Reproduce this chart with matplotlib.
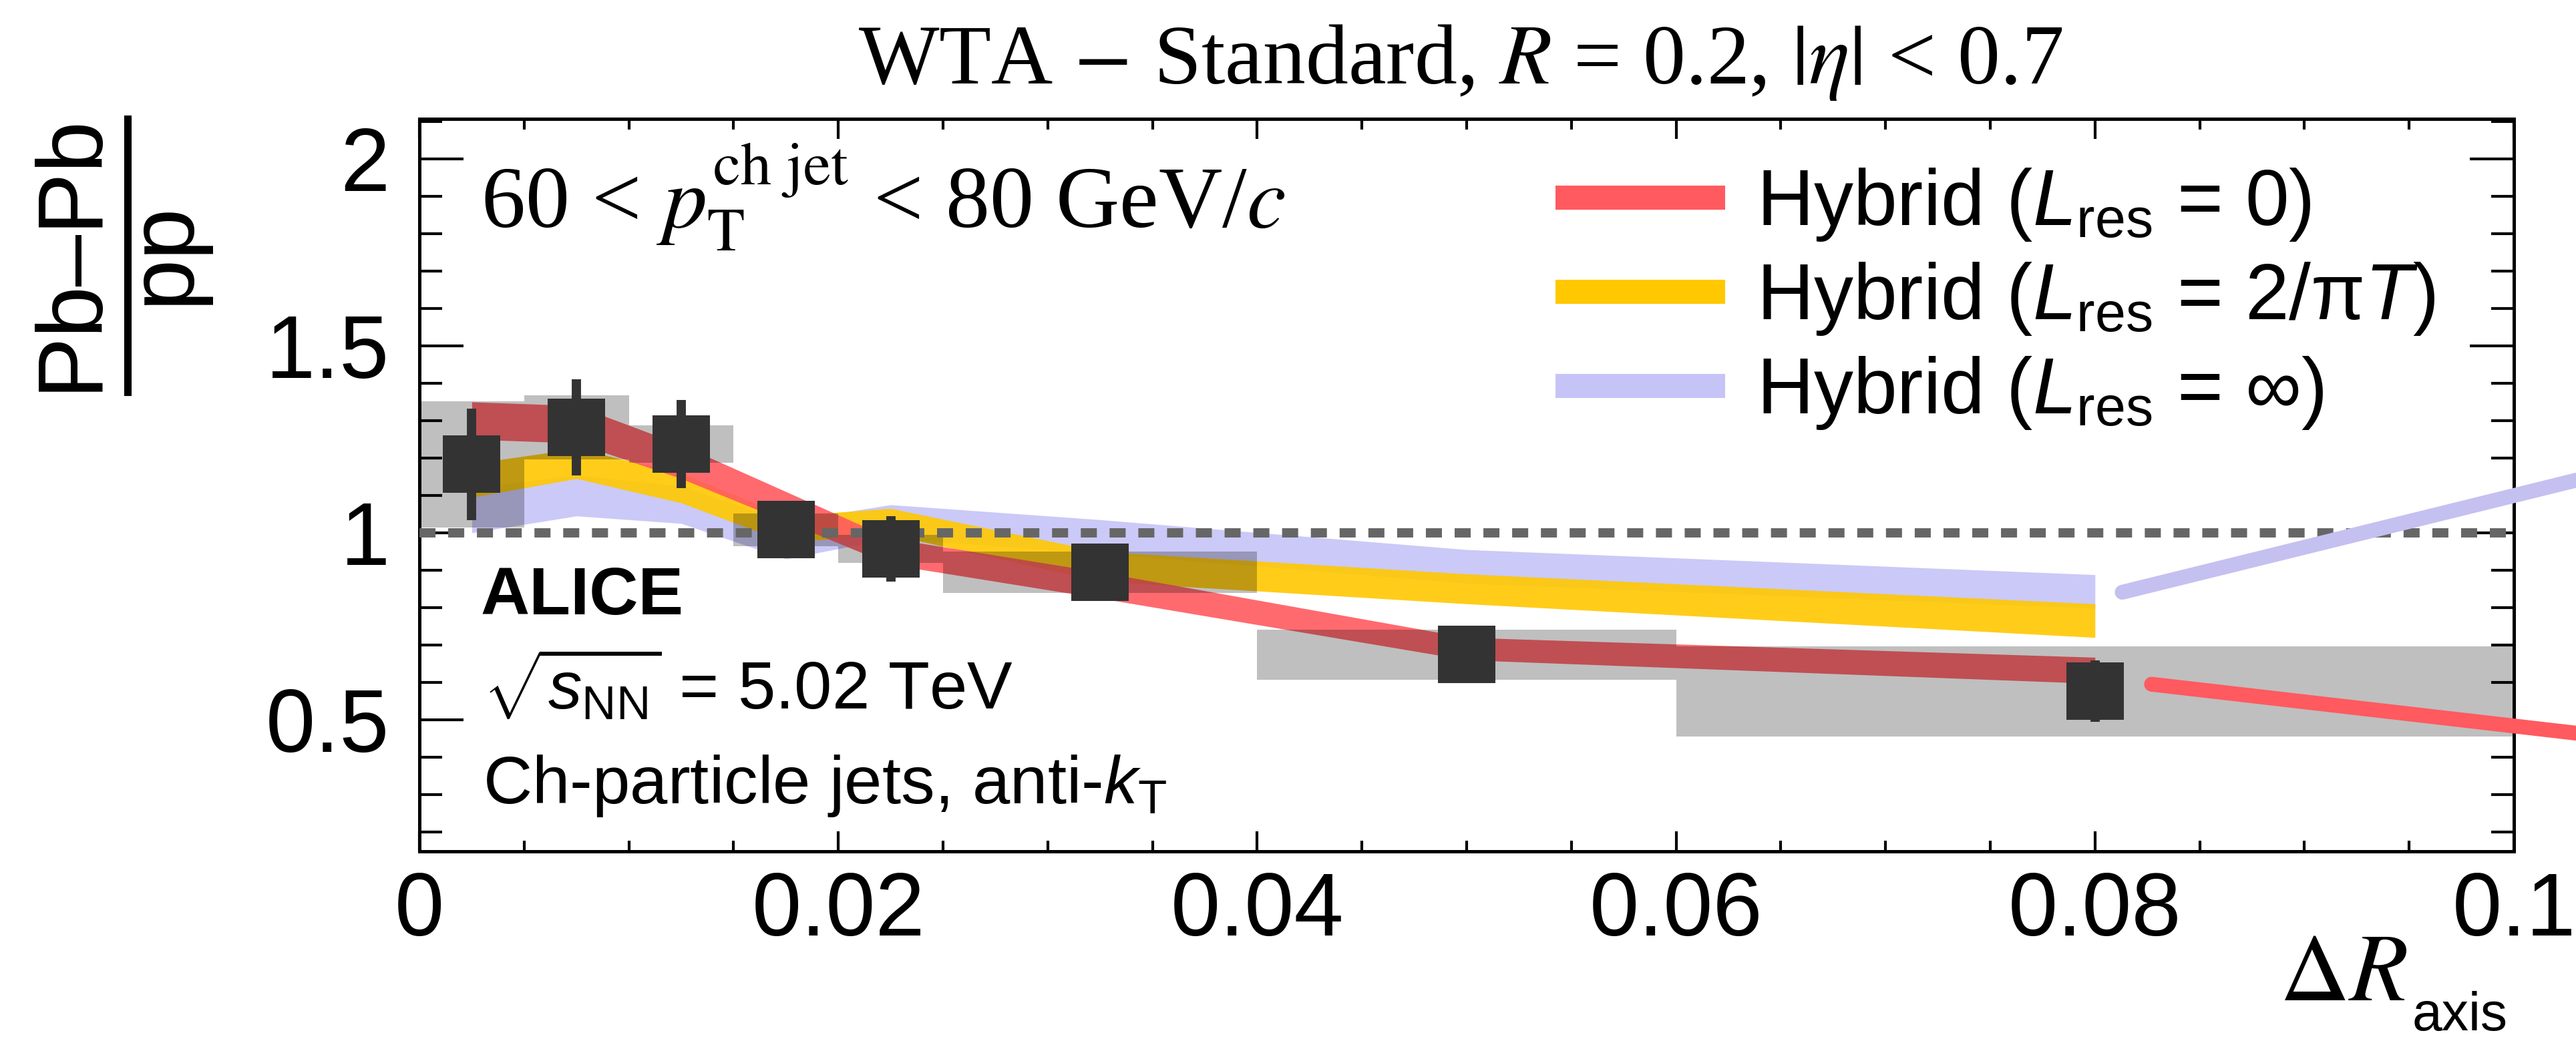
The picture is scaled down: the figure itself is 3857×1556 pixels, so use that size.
import matplotlib
matplotlib.use('Agg')
import matplotlib.pyplot as plt
from matplotlib.lines import Line2D
from matplotlib.ticker import MultipleLocator, FuncFormatter
import numpy as np

# Measured Pb-Pb / pp ratio per Delta R_axis bin
bin_lo = [0.0, 0.005, 0.01, 0.015, 0.02, 0.025, 0.04, 0.06]
bin_hi = [0.005, 0.01, 0.015, 0.02, 0.025, 0.04, 0.06, 0.1]
bin_mid = [0.0025, 0.0075, 0.0125, 0.0175, 0.0225, 0.0325, 0.05, 0.08]
ratio = [1.183, 1.282, 1.237, 1.008, 0.957, 0.894, 0.674, 0.576]
stat_err = [0.149, 0.128, 0.118, 0.03, 0.088, 0.03, 0.02, 0.082]
syst_err = [0.169, 0.086, 0.05, 0.044, 0.037, 0.055, 0.067, 0.121]

# Hybrid model bands: centre and half width at each bin centre
hyb0_mid = [1.30, 1.29, 1.19, 1.07, 0.95, 0.86, 0.69, 0.632]
hyb0_hw = [0.05, 0.05, 0.045, 0.04, 0.035, 0.035, 0.03, 0.035]
hyb2pt_mid = [1.14, 1.185, 1.12, 1.01, 1.03, 0.91, 0.85, 0.765]
hyb2pt_hw = [0.045, 0.04, 0.04, 0.035, 0.035, 0.04, 0.04, 0.045]
hybinf_mid = [1.06, 1.10, 1.075, 0.98, 1.03, 0.99, 0.91, 0.843]
hybinf_hw = [0.06, 0.055, 0.05, 0.05, 0.045, 0.045, 0.045, 0.045]

model_labels = [r'Hybrid ($L_{\mathrm{res}}$ = 0)',
                r'Hybrid ($L_{\mathrm{res}}$ = 2/$\mathrm{\pi}T$)',
                r'Hybrid ($L_{\mathrm{res}}$ = $\infty$)']

# stray pen strokes running off the right edge
stroke_lav_x = [0.0813, 0.103]
stroke_lav_y = [0.841, 1.141]
stroke_red_x = [0.0827, 0.103]
stroke_red_y = [0.595, 0.464]

RED = '#ff5a5f'
YELLOW = '#ffc800'
LAVENDER = '#c6c4f7'
MARKER = '#333333'

plt.rcParams['font.family'] = ['Liberation Sans', 'DejaVu Sans']
plt.rcParams['mathtext.fontset'] = 'custom'
plt.rcParams['mathtext.rm'] = 'Liberation Sans'
plt.rcParams['mathtext.it'] = 'Liberation Sans:italic'
plt.rcParams['mathtext.bf'] = 'Liberation Sans:bold'
plt.rcParams['mathtext.sf'] = 'Liberation Sans'

W, H = 3857, 1556
fig = plt.figure(figsize=(W / 100, H / 100), dpi=100)
ax = fig.add_axes([628 / W, 1 - 1275 / H, (3764 - 628) / W, (1275 - 178) / H])

# model bands (lavender at the back, red on top)
for mid, hw, col, z in [(hybinf_mid, hybinf_hw, LAVENDER, 1),
                        (hyb2pt_mid, hyb2pt_hw, YELLOW, 1.1),
                        (hyb0_mid, hyb0_hw, RED, 1.2)]:
    mid = np.array(mid)
    hw = np.array(hw)
    ax.fill_between(bin_mid, mid - hw, mid + hw, color=col, alpha=0.9,
                    lw=0, zorder=z)

# systematic boxes
ratio_a = np.array(ratio)
syst_a = np.array(syst_err)
widths = np.array(bin_hi) - np.array(bin_lo)
ax.bar(bin_lo, 2 * syst_a, width=widths, bottom=ratio_a - syst_a,
       align='edge', color='black', alpha=0.25, lw=0, zorder=2)

# unity line
ax.axhline(1.0, color='#666666', lw=10, ls=(0, (1.73, 1.37)),
           dash_capstyle='butt', zorder=3)

# data points
ax.errorbar(bin_mid, ratio, yerr=stat_err, fmt='s', ms=62, mew=0,
            color=MARKER, ecolor=MARKER, elinewidth=10, capsize=0, zorder=4)

# strokes outside the frame
ax.plot(stroke_lav_x, stroke_lav_y, color='#c4c0f0', lw=16,
        solid_capstyle='round', clip_on=False, zorder=5)
ax.plot(stroke_red_x, stroke_red_y, color=RED, lw=16,
        solid_capstyle='round', clip_on=False, zorder=5)

ax.set_xlim(0, 0.1)
ax.set_ylim(0.148, 2.107)

ax.xaxis.set_major_locator(MultipleLocator(0.02))
ax.xaxis.set_minor_locator(MultipleLocator(0.005))
ax.yaxis.set_major_locator(MultipleLocator(0.5))
ax.yaxis.set_minor_locator(MultipleLocator(0.1))
fmt = FuncFormatter(lambda v, p: '%g' % round(v, 4))
ax.xaxis.set_major_formatter(fmt)
ax.yaxis.set_major_formatter(fmt)

ax.tick_params(which='both', direction='in', top=True, right=True,
               width=3, color='black', labelsize=96)
ax.tick_params(axis='x', which='major', length=21.6, pad=21)
ax.tick_params(axis='x', which='minor', length=11.5)
ax.tick_params(axis='y', which='major', length=47.5, pad=32)
ax.tick_params(axis='y', which='minor', length=24.5)
for sp in ax.spines.values():
    sp.set_linewidth(3.6)

# legend
handles = [Line2D([], [], color=c, lw=26, solid_capstyle='butt')
           for c in (RED, YELLOW, LAVENDER)]
ax.legend(handles, model_labels, loc='upper left',
          bbox_to_anchor=((2329 - 628) / 3136, 0.935), frameon=False,
          fontsize=85, borderpad=0, borderaxespad=0, handlelength=2.15,
          handletextpad=0.4, labelspacing=0.22)

# text annotations
ax.text((720 - 628) / 3136, (1275 - 341) / 1097,
        r'60 < $p_{\mathrm{T}}^{\mathrm{ch\ jet}}$ < 80 GeV/$c$',
        transform=ax.transAxes, fontsize=95, family='Liberation Serif',
        math_fontfamily='stix', va='baseline', ha='left')
ax.text((719 - 628) / 3136, (1275 - 920) / 1097, 'ALICE',
        transform=ax.transAxes, fontsize=73, fontweight='bold',
        va='baseline', ha='left')
ax.text((723 - 628) / 3136, (1275 - 1062) / 1097,
        r'$\sqrt{s_{\mathrm{NN}}}$ = 5.02 TeV',
        transform=ax.transAxes, fontsize=73, va='baseline', ha='left')
ax.text((723 - 628) / 3136, (1275 - 1203) / 1097,
        r'Ch-particle jets, anti-$k_{\mathrm{T}}$',
        transform=ax.transAxes, fontsize=73, va='baseline', ha='left')

# title
fig.text(0.567, 1 - 125 / H,
         r'WTA $-$ Standard, $R$ = 0.2, $|\eta|$ < 0.7',
         ha='center', va='baseline', fontsize=92,
         family='Liberation Serif', math_fontfamily='stix')

# x axis title: Delta R in serif with a sans subscript
fig.text(3604 / W, 1 - 1498 / H, r'$\Delta R$',
         ha='right', va='baseline', fontsize=104, math_fontfamily='stix')
fig.text(3612 / W, 1 - 1543 / H, 'axis',
         ha='left', va='baseline', fontsize=58)

# y axis title drawn as a fraction
fig.text(143 / W, 1 - 377 / H, 'Pb\u2013Pb', rotation=90,
         rotation_mode='anchor', ha='center', va='baseline', fontsize=100)
fig.add_artist(Line2D([191 / W, 191 / W], [1 - 178 / H, 1 - 587 / H],
                      color='black', lw=8, transform=fig.transFigure))
fig.text(282 / W, 1 - 380 / H, 'pp', rotation=90,
         rotation_mode='anchor', ha='center', va='baseline', fontsize=100)

fig.savefig('out.png', dpi=100)
